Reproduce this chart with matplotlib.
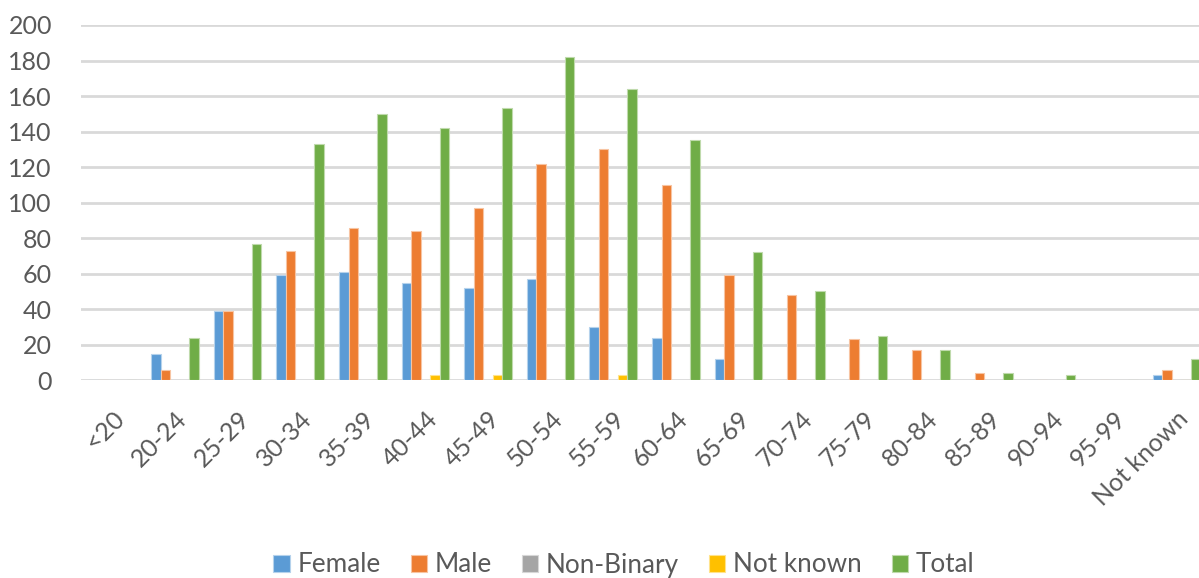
import numpy as np
import matplotlib
matplotlib.use('Agg')
import matplotlib.pyplot as plt
from matplotlib.colors import to_rgb

nan = np.nan

# age bands on the x axis
age_bands = ['<20', '20-24', '25-29', '30-34', '35-39', '40-44', '45-49', '50-54',
             '55-59', '60-64', '65-69', '70-74', '75-79', '80-84', '85-89', '90-94',
             '95-99', 'Not known']

# counts per gender, nan = blank cell
female = [0, 15, 39, 59, 61, 55, 52, 57, 30, 24, 12, 0, 0, nan, nan, 0, nan, 3]
male = [0, 6, 39, 73, 86, 84, 97, 122, 130, 110, 59, 48, 23, 17, 4, 0, 0, 6]
non_binary = [nan, 0, nan, nan, nan, nan, nan, nan, nan, nan, nan, nan, nan, nan, nan, nan, nan, nan]
not_known = [nan, nan, nan, nan, 0, 3, 3, nan, 3, nan, nan, nan, nan, nan, nan, nan, nan, 0]
total = [0, 24, 77, 133, 150, 142, 153, 182, 164, 135, 72, 50, 25, 17, 4, 3, 0, 12]

series = [('Female', female, '#5B9BD5'),
          ('Male', male, '#ED7D31'),
          ('Non-Binary', non_binary, '#A5A5A5'),
          ('Not known', not_known, '#FFC000'),
          ('Total', total, '#70AD47')]

plt.rcParams['font.family'] = ['Lato', 'DejaVu Sans']
text_col = '#595959'


def lighter(c, amt=0.55):
    r, g, b = to_rgb(c)
    return (r + (1 - r) * amt, g + (1 - g) * amt, b + (1 - b) * amt)


fig = plt.figure(figsize=(11.99, 5.78), dpi=100)
ax = fig.add_axes([81.1 / 1199, 1 - 380.3 / 578, 1126.8 / 1199, 355.3 / 578])

x = np.arange(len(age_bands))
w = 0.152
for k, (name, vals, col) in enumerate(series):
    ax.bar(x + (k - 2) * w, vals, width=w, color=col, edgecolor=lighter(col),
           linewidth=0.8, label=name, zorder=3)

ax.set_xlim(-0.5, len(age_bands) - 0.5)
ax.set_ylim(0, 200)
ax.set_yticks(range(0, 201, 20))
ax.yaxis.grid(True, color='#D9D9D9', linewidth=2.0)
ax.set_axisbelow(True)
for s in ax.spines.values():
    s.set_visible(False)

ax.set_xticks(x)
ax.set_xticklabels(age_bands, rotation=45, ha='right', va='top', rotation_mode='anchor')
ax.tick_params(axis='x', length=0, pad=19, labelsize=18, labelcolor=text_col)
ax.tick_params(axis='y', length=0, pad=21, labelsize=18, labelcolor=text_col)

fig.legend(loc='center', bbox_to_anchor=(624 / 1199, 1 - 565 / 578), ncol=5,
           frameon=False, fontsize=18.8, labelcolor=text_col,
           handlelength=0.62, handleheight=0.6, handletextpad=0.3,
           columnspacing=1.15, borderaxespad=0)

fig.savefig('out.png', dpi=100)
